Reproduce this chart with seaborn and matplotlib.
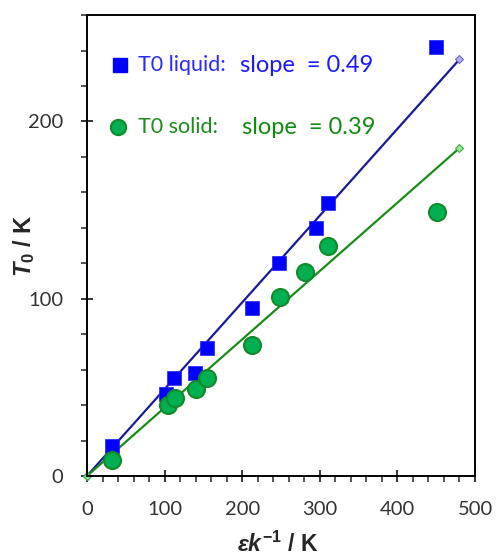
import numpy as np
import pandas as pd
import matplotlib
matplotlib.use("Agg")
import matplotlib.pyplot as plt
import seaborn as sns
from matplotlib.ticker import MultipleLocator

# data
liq_x = [32, 102, 112, 139, 154, 213, 248, 295, 310, 450]
liq_y = [17, 46, 55, 58, 72, 95, 120, 140, 154, 242]
sol_x = [32, 105, 113, 140, 155, 213, 249, 281, 310, 451]
sol_y = [9, 40, 44, 49, 55, 74, 101, 115, 130, 149]
fit_x = [0, 480]
liq_fit = [0, 235]
sol_fit = [0, 185]

sns.set_theme(style="white")
plt.rcParams["font.family"] = ["Lato", "DejaVu Sans"]
plt.rcParams["mathtext.fontset"] = "custom"
plt.rcParams["mathtext.it"] = "Liberation Sans:italic:bold"
plt.rcParams["mathtext.rm"] = "Liberation Sans:bold"

fig = plt.figure(figsize=(4.96, 5.58), dpi=100)
ax = fig.add_axes([0.1754, 0.147, 0.7823, 0.826])

liq = pd.DataFrame({"x": liq_x, "y": liq_y})
sol = pd.DataFrame({"x": sol_x, "y": sol_y})
fl = pd.DataFrame({"x": fit_x, "y": liq_fit})
fs = pd.DataFrame({"x": fit_x, "y": sol_fit})

sns.lineplot(data=fl, x="x", y="y", ax=ax, color="#1a1a99", lw=1.6,
             marker="D", markersize=4.5, markerfacecolor="#b0b0f0",
             markeredgecolor="#6a6acc", markeredgewidth=0.8, clip_on=False, zorder=2)
sns.lineplot(data=fs, x="x", y="y", ax=ax, color="#1a8c1a", lw=1.6,
             marker="D", markersize=4.5, markerfacecolor="#90e890",
             markeredgecolor="#40b040", markeredgewidth=0.8, clip_on=False, zorder=2)
sns.scatterplot(data=liq, x="x", y="y", ax=ax, marker="s", s=115,
                color="#0000ff", edgecolor="#2020ff", linewidth=0.5, zorder=3)
sns.scatterplot(data=sol, x="x", y="y", ax=ax, marker="o", s=150,
                color="#00b050", edgecolor="#118a2a", linewidth=1.5, zorder=4)

ax.set_xlim(0, 500)
ax.set_ylim(0, 260)
ax.xaxis.set_major_locator(MultipleLocator(100))
ax.xaxis.set_minor_locator(MultipleLocator(20))
ax.yaxis.set_major_locator(MultipleLocator(100))
ax.yaxis.set_minor_locator(MultipleLocator(20))
ax.tick_params(which="major", direction="inout", length=8, width=1.3,
               labelsize=14.5, labelcolor="#333333")
ax.tick_params(axis="x", which="major", pad=14)
ax.tick_params(axis="y", which="major", pad=13)
ax.tick_params(which="minor", direction="out", length=4, width=1.1)
ax.tick_params(bottom=True, left=True, which="both")
for s in ax.spines.values():
    s.set_linewidth(1.4)
    s.set_color("black")

ax.set_xlabel(r"$\mathit{\varepsilon k}^{\mathrm{-1}}$ / K", fontsize=16.5,
              fontweight="bold", family="Liberation Sans")
ax.set_ylabel(r"$\mathit{T}_{\mathrm{0}}$ / K", fontsize=17,
              fontweight="bold", family="Liberation Sans")
ax.xaxis.set_label_coords(0.492, -0.12)
ax.yaxis.set_label_coords(-0.13, 0.5)

# legend-like text
ax.plot([0.085], [0.8915], "s", color="#0000ff", ms=10, transform=ax.transAxes)
ax.text(0.131, 0.8915, "T0 liquid:", color="#2a2aff", fontsize=15.5,
        va="center", transform=ax.transAxes)
ax.text(0.394, 0.8915, "slope  = 0.49", color="#1a1aff", fontsize=17,
        va="center", transform=ax.transAxes)
ax.plot([0.080], [0.757], "o", color="#00b050", mec="#118a2a", mew=1.5, ms=11,
        transform=ax.transAxes)
ax.text(0.131, 0.757, "T0 solid:", color="#1a8c1a", fontsize=15.5,
        va="center", transform=ax.transAxes)
ax.text(0.40, 0.757, "slope  = 0.39", color="#118a11", fontsize=17,
        va="center", transform=ax.transAxes)

fig.savefig("out.png", dpi=100)
